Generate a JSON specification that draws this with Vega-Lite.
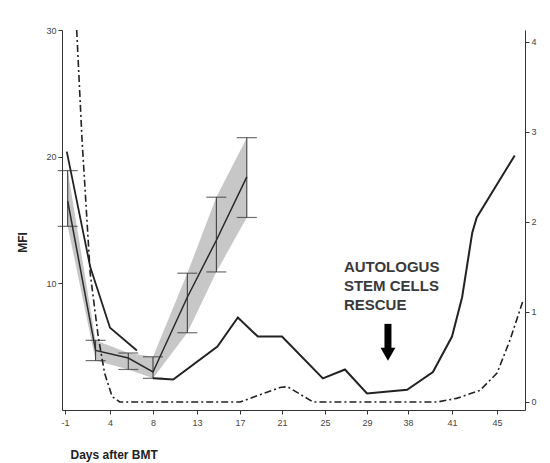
{
  "$schema": "https://vega.github.io/schema/vega-lite/v6.json",
  "autosize": {"type": "none"},
  "width": 463,
  "height": 380,
  "padding": {"left": 62, "top": 30, "right": 25, "bottom": 53},
  "background": "white",
  "config": {
    "view": {"stroke": null},
    "font": "Liberation Sans",
    "axis": {"labelFont": "Liberation Sans", "labelFontSize": 9, "labelColor": "#444", "domainColor": "#333", "tickColor": "#333", "titleFont": "Liberation Sans", "grid": false, "tickSize": 4},
    "axisLeft": {"title": "MFI", "titleFontSize": 12, "titleFontWeight": "bold", "titleColor": "#222", "titleAngle": -90, "titleX": -40, "titleY": 212, "titleAlign": "center", "titleBaseline": "middle", "labelPadding": 2}
  },
  "datasets": {
    "lineA": [
      {"day": -0.8, "mfi": 20.4}, {"day": 1.8, "mfi": 11.3}, {"day": 4, "mfi": 6.5}, {"day": 6.5, "mfi": 4.7}
    ],
    "lineB": [
      {"day": -0.7, "mean": 16.5, "low": 14.5, "high": 18.9},
      {"day": 2.4, "mean": 4.7, "low": 3.9, "high": 5.5},
      {"day": 5.7, "mean": 4.1, "low": 3.2, "high": 4.5},
      {"day": 8, "mean": 3.0, "low": 2.5, "high": 4.2},
      {"day": 11.9, "mean": 8.9, "low": 6.1, "high": 10.8},
      {"day": 14.8, "mean": 13.4, "low": 10.9, "high": 16.8},
      {"day": 17.65, "mean": 18.4, "low": 15.2, "high": 21.5}
    ],
    "lineC": [
      {"day": 8, "mfi": 2.5}, {"day": 10.3, "mfi": 2.4}, {"day": 14.9, "mfi": 5.0}, {"day": 16.8, "mfi": 7.3},
      {"day": 18.7, "mfi": 5.8}, {"day": 21, "mfi": 5.8}, {"day": 24.8, "mfi": 2.5}, {"day": 26.9, "mfi": 3.2},
      {"day": 29, "mfi": 1.3}, {"day": 37.8, "mfi": 1.6}, {"day": 39.7, "mfi": 3.0}, {"day": 41, "mfi": 5.8},
      {"day": 41.9, "mfi": 8.9}, {"day": 42.8, "mfi": 14.0}, {"day": 43.2, "mfi": 15.2}, {"day": 46.9, "mfi": 20.1}
    ],
    "lineD": [
      {"day": 0.3, "v": 4.13}, {"day": 0.9, "v": 2.9}, {"day": 1.8, "v": 1.43}, {"day": 2.7, "v": 0.72},
      {"day": 3.4, "v": 0.32}, {"day": 4.2, "v": 0.06}, {"day": 4.9, "v": 0}, {"day": 17, "v": 0},
      {"day": 20.8, "v": 0.16}, {"day": 21.5, "v": 0.17}, {"day": 23.9, "v": 0}, {"day": 40, "v": 0},
      {"day": 41.4, "v": 0.04}, {"day": 43.5, "v": 0.13}, {"day": 45, "v": 0.32}, {"day": 46.4, "v": 0.69},
      {"day": 47.8, "v": 1.13}
    ],
    "note": [{"day": 26.8, "mfi": 11.84, "label": "AUTOLOGUS\nSTEM CELLS\nRESCUE"}],
    "arrow": [{"day": 33.6, "top": 6.8, "bottom": 4.7, "tip": 4.4}]
  },
  "encoding": {
    "x": {
      "field": "day", "type": "quantitative",
      "scale": {"domain": [-1.33, -1, 4, 8, 13, 17, 21, 25, 29, 38, 41, 45, 48], "range": [0, 3, 48, 91, 135, 178, 220, 263, 305, 346, 390, 435, 463], "nice": false, "zero": false},
      "axis": {"values": [-1, 4, 8, 13, 17, 21, 25, 29, 38, 41, 45], "labelExpr": "replace(datum.label, '−', '-')", "format": "d", "labelPadding": 4, "title": "Days after BMT", "titleFontSize": 12, "titleFontWeight": "bold", "titleColor": "#222", "titleAlign": "left", "titleBaseline": "alphabetic", "titleX": 8, "titleY": 48, "titleAnchor": "start"}
    }
  },
  "layer": [
    {
      "layer": [
        {
          "data": {"name": "lineB"},
          "mark": {"type": "area", "color": "#bdbdbd", "opacity": 0.85},
          "encoding": {
            "y": {"field": "low", "type": "quantitative", "scale": {"domain": [0, 30], "nice": false, "zero": false}, "axis": {"values": [10, 20, 30], "title": "MFI"}},
            "y2": {"field": "high"}
          }
        },
        {
          "data": {"name": "lineB"},
          "mark": {"type": "errorbar", "color": "#333", "thickness": 1, "ticks": {"size": 20, "thickness": 1.2}},
          "encoding": {
            "y": {"field": "low", "type": "quantitative", "scale": {"domain": [0, 30], "nice": false, "zero": false}, "axis": {"values": [10, 20, 30], "title": "MFI"}},
            "y2": {"field": "high"}
          }
        },
        {
          "data": {"name": "lineB"},
          "mark": {"type": "line", "color": "#2a2a2a", "strokeWidth": 1.5},
          "encoding": {"y": {"field": "mean", "type": "quantitative", "scale": {"domain": [0, 30], "nice": false, "zero": false}, "axis": {"values": [10, 20, 30], "title": "MFI"}}}
        },
        {
          "data": {"name": "lineA"},
          "mark": {"type": "line", "color": "#222", "strokeWidth": 1.8},
          "encoding": {"y": {"field": "mfi", "type": "quantitative", "scale": {"domain": [0, 30], "nice": false, "zero": false}, "axis": {"values": [10, 20, 30], "title": "MFI"}}}
        },
        {
          "data": {"name": "lineC"},
          "mark": {"type": "line", "color": "#222", "strokeWidth": 2},
          "encoding": {"y": {"field": "mfi", "type": "quantitative", "scale": {"domain": [0, 30], "nice": false, "zero": false}, "axis": {"values": [10, 20, 30], "title": "MFI"}}}
        },
        {
          "data": {"name": "note"},
          "mark": {"type": "text", "align": "left", "baseline": "top", "lineBreak": "\n", "fontSize": 15, "fontWeight": "bold", "lineHeight": 19, "color": "#3a3a3a"},
          "encoding": {
            "y": {"field": "mfi", "type": "quantitative", "scale": {"domain": [0, 30], "nice": false, "zero": false}, "axis": {"values": [10, 20, 30], "title": "MFI"}},
            "text": {"field": "label"}
          }
        },
        {
          "data": {"name": "arrow"},
          "mark": {"type": "rule", "color": "#000", "strokeWidth": 7},
          "encoding": {
            "y": {"field": "top", "type": "quantitative", "scale": {"domain": [0, 30], "nice": false, "zero": false}, "axis": {"values": [10, 20, 30], "title": "MFI"}},
            "y2": {"field": "bottom"}
          }
        },
        {
          "data": {"name": "arrow"},
          "mark": {"type": "point", "shape": "triangle-down", "filled": true, "color": "#000", "size": 220, "opacity": 1},
          "encoding": {"y": {"field": "tip", "type": "quantitative", "scale": {"domain": [0, 30], "nice": false, "zero": false}, "axis": {"values": [10, 20, 30], "title": "MFI"}}}
        }
      ]
    },
    {
      "data": {"name": "lineD"},
      "mark": {"type": "line", "color": "#222", "strokeWidth": 1.6, "strokeDash": [7, 3, 2, 3]},
      "encoding": {
        "y": {"field": "v", "type": "quantitative", "scale": {"domain": [-0.089, 4.13], "nice": false, "zero": false},
          "axis": {"orient": "right", "values": [0, 1, 2, 3, 4], "format": "d", "title": null, "labelPadding": 2}}
      }
    }
  ],
  "resolve": {"scale": {"y": "independent"}}
}
